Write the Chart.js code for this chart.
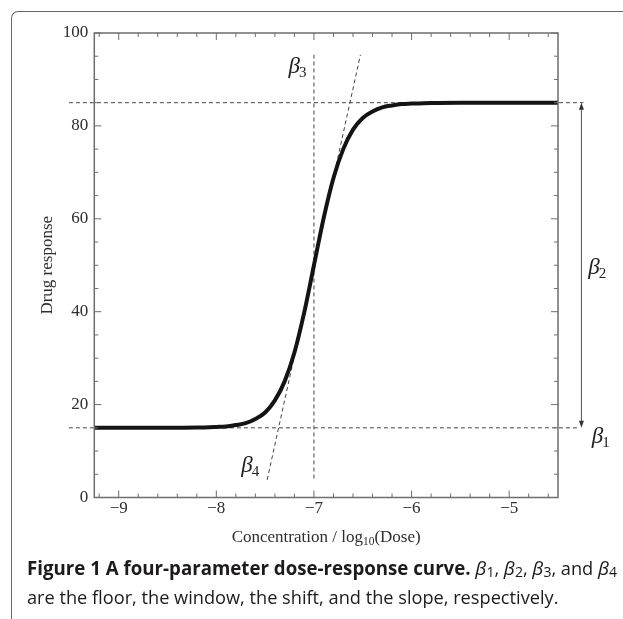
<!DOCTYPE html>
<html>
<head>
<meta charset="utf-8">
<script src="https://cdn.jsdelivr.net/npm/chart.js@4.4.1/dist/chart.umd.min.js"></script>
<style>
  html, body { margin: 0; padding: 0; background: #fff; }
  body { width: 623px; height: 619px; position: relative; overflow: hidden; }
  #frame { position: absolute; left: 11px; top: 11px; width: 700px; height: 700px;
           border-top: 1.5px solid #666; border-left: 1.5px solid #666; border-top-left-radius: 7px; }
  #wrap { position: absolute; left: 0; top: 0; width: 623px; height: 560px; }
  #caption { position: absolute; left: 27px; top: 553px; font-family: "Open Sans"; font-size: 18.2px;
             line-height: 29px; color: #1d1a1b; white-space: nowrap; }
  #caption b { font-size: 18.7px; }
  #caption i { font-size: 19px; }
  #caption sub { font-size: 14px; vertical-align: -2px; line-height: 0; }
</style>
</head>
<body>
<div id="frame"></div>
<div id="wrap"><canvas id="doseChart"></canvas></div>
<div id="caption"><b>Figure 1 A four-parameter dose-response curve.</b> <i>β</i><sub>1</sub>, <i>β</i><sub>2</sub>, <i>β</i><sub>3</sub>, and <i>β</i><sub>4</sub><br>are the floor, the window, the shift, and the slope, respectively.</div>
<script>
// curve
var doseX = [-9.25, -9.0, -8.5, -8.2, -8.0, -7.9, -7.8, -7.7, -7.6, -7.5, -7.4, -7.3, -7.2, -7.1, -7.0,
             -6.9, -6.8, -6.7, -6.6, -6.5, -6.4, -6.3, -6.2, -6.1, -6.0, -5.8, -5.5, -5.0, -4.5];
var response = [15.0, 15.0, 15.0, 15.05, 15.2, 15.3, 15.6, 16.0, 16.9, 18.3, 20.9, 25.0, 31.2, 39.8, 50.0,
                60.2, 68.8, 75.0, 79.2, 81.7, 83.1, 84.0, 84.4, 84.7, 84.8, 84.95, 85.0, 85.0, 85.0];

// dashed guide lines
var floorX = [-9.51, -4.28], floorY = [15, 15];
var topX = [-9.51, -4.24], topY = [85, 85];
var shiftX = [-7, -7], shiftY = [4.1, 95.3];
var slopeX = [-7.479, -6.524], slopeY = [3.8, 95.3];

var xTicks = [-9, -8, -7, -6, -5];
var yTicks = [0, 20, 40, 60, 80, 100];

var serif = '"Liberation Serif", "Times New Roman", serif';
var textCol = '#2e2e2e';
var axisCol = '#6e6e6e';

function pts(xs, ys) {
  return xs.map(function(x, i) { return {x: x, y: ys[i]}; });
}

function guide(xs, ys) {
  return {
    data: pts(xs, ys), showLine: true, borderColor: '#444', borderWidth: 1,
    borderDash: [4, 3], pointRadius: 0, clip: false, tension: 0
  };
}

var framePlugin = {
  id: 'frame',
  afterDraw: function(chart) {
    var ctx = chart.ctx, a = chart.chartArea;
    var xs = chart.scales.x, ys = chart.scales.y;
    ctx.save();
    ctx.strokeStyle = axisCol;
    ctx.lineWidth = 1.5;
    ctx.strokeRect(a.left, a.top, a.right - a.left, a.bottom - a.top);

    // inward ticks on all four sides
    ctx.lineWidth = 1;
    ctx.beginPath();
    for (var i = -46; i <= -23; i++) {
      var v = i / 5, px = xs.getPixelForValue(v);
      var len = (i % 5 === 0) ? 7 : 4;
      ctx.moveTo(px, a.bottom); ctx.lineTo(px, a.bottom - len);
      ctx.moveTo(px, a.top); ctx.lineTo(px, a.top + len);
    }
    for (var j = 0; j <= 100; j += 5) {
      var py = ys.getPixelForValue(j);
      var ylen = (j % 20 === 0) ? 7 : 4;
      ctx.moveTo(a.left, py); ctx.lineTo(a.left + ylen, py);
      ctx.moveTo(a.right, py); ctx.lineTo(a.right - ylen, py);
    }
    ctx.stroke();

    // x axis title with subscript
    ctx.fillStyle = textCol;
    ctx.textBaseline = 'alphabetic';
    var big = '17px ' + serif, small = '11.5px ' + serif;
    var parts = [['Concentration / log', big, 0], ['10', small, 3], ['(Dose)', big, 0]];
    var w = 0;
    parts.forEach(function(p) { ctx.font = p[1]; w += ctx.measureText(p[0]).width; });
    var tx = (a.left + a.right) / 2 - w / 2, ty = 542;
    parts.forEach(function(p) {
      ctx.font = p[1]; ctx.fillText(p[0], tx, ty + p[2]); tx += ctx.measureText(p[0]).width;
    });

    // window arrow
    var ax = xs.getPixelForValue(-4.26);
    var y1 = ys.getPixelForValue(85), y2 = ys.getPixelForValue(15);
    ctx.strokeStyle = '#555';
    ctx.fillStyle = '#333';
    ctx.beginPath(); ctx.moveTo(ax, y1 + 4); ctx.lineTo(ax, y2 - 4); ctx.stroke();
    ctx.beginPath(); ctx.moveTo(ax, y1); ctx.lineTo(ax - 2.5, y1 + 7); ctx.lineTo(ax + 2.5, y1 + 7); ctx.closePath(); ctx.fill();
    ctx.beginPath(); ctx.moveTo(ax, y2); ctx.lineTo(ax - 2.5, y2 - 7); ctx.lineTo(ax + 2.5, y2 - 7); ctx.closePath(); ctx.fill();

    // beta labels
    var betas = [['1', -4.153, 11.8], ['2', -4.19, 48.2], ['3', -7.26, 91.4], ['4', -7.745, 5.45]];
    betas.forEach(function(b) {
      var bx = xs.getPixelForValue(b[1]), by = ys.getPixelForValue(b[2]);
      ctx.fillStyle = '#222';
      ctx.font = 'italic 23px ' + serif;
      ctx.fillText('\u03b2', bx, by);
      var bw = ctx.measureText('\u03b2').width;
      ctx.font = '15px ' + serif;
      ctx.fillText(b[0], bx + bw - 1, by + 4);
    });
    ctx.restore();
  }
};

var ctx = document.getElementById('doseChart').getContext('2d');
var chart = new Chart(ctx, {
  type: 'scatter',
  data: {
    datasets: [
      {
        data: pts(doseX, response), showLine: true, borderColor: '#141414', borderWidth: 4,
        pointRadius: 0, cubicInterpolationMode: 'monotone'
      },
      guide(floorX, floorY),
      guide(topX, topY),
      guide(shiftX, shiftY),
      guide(slopeX, slopeY)
    ]
  },
  options: {
    responsive: true,
    maintainAspectRatio: false,
    animation: false,
    layout: { padding: { left: 33, top: 33, right: 65, bottom: 9 } },
    plugins: { legend: { display: false }, tooltip: { enabled: false } },
    scales: {
      x: {
        type: 'linear', min: -9.25, max: -4.5,
        grid: { display: false, drawTicks: false },
        border: { display: false },
        afterBuildTicks: function(s) { s.ticks = xTicks.map(function(v) { return {value: v}; }); },
        afterFit: function(s) { s.height = 53.5; },
        ticks: {
          padding: 1, color: textCol, font: { family: serif, size: 17 },
          callback: function(v) { return v < 0 ? '\u2212' + Math.abs(v) : String(v); }
        }
      },
      y: {
        type: 'linear', min: 0, max: 100,
        grid: { display: false, drawTicks: false },
        border: { display: false },
        afterBuildTicks: function(s) { s.ticks = yTicks.map(function(v) { return {value: v}; }); },
        afterFit: function(s) { s.width = 61.3; },
        ticks: { padding: 6, color: textCol, font: { family: serif, size: 17 } },
        title: { display: true, text: 'Drug response', color: textCol, font: { family: serif, size: 17 } }
      }
    }
  },
  plugins: [framePlugin]
});
</script>
</body>
</html>
